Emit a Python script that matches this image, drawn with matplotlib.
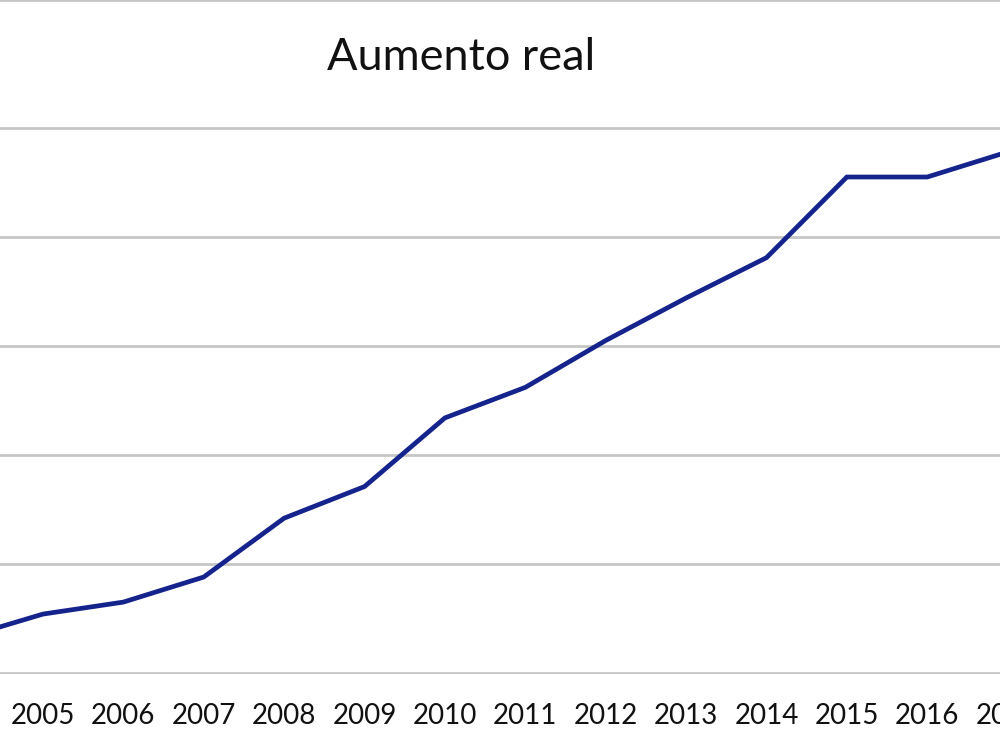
import matplotlib
matplotlib.use("Agg")
import matplotlib.pyplot as plt

years = list(range(2004, 2018))
values = [0.32, 0.54, 0.65, 0.88, 1.42, 1.71, 2.34, 2.62, 3.05, 3.44, 3.81, 4.55, 4.55, 4.78]
title = "Aumento real"

plt.rcParams["font.family"] = ["Lato", "DejaVu Sans"]

fig = plt.figure(figsize=(10, 7.5), dpi=100)
# plot area is wider than the figure: the reference is a cropped screenshot
ax = fig.add_axes([-0.08, 0.1013, 1.16, 0.8987])
ax.plot(years, values, color="#15238c", linewidth=3.4, solid_joinstyle="miter", zorder=3)

ax.set_xlim(2003.47, 2017.90)
ax.set_ylim(-0.01, 6.174)
ax.set_yticks(range(0, 6))
ax.set_xticks(years)
ax.set_xticklabels([str(y) for y in years])
ax.grid(axis="y", color="#c6c6c6", linewidth=2)
ax.set_axisbelow(True)
for side in ["left", "right", "bottom"]:
    ax.spines[side].set_visible(False)
ax.spines["top"].set_color("#c6c6c6")
ax.spines["top"].set_linewidth(2)
ax.tick_params(axis="x", length=0, pad=21, labelsize=20, labelcolor="#111111")
ax.tick_params(axis="y", length=0, labelleft=False)

fig.text(0.4615, 0.924, title, ha="center", va="center", fontsize=32.5, color="#111111")

fig.savefig("out.png", dpi=100)
